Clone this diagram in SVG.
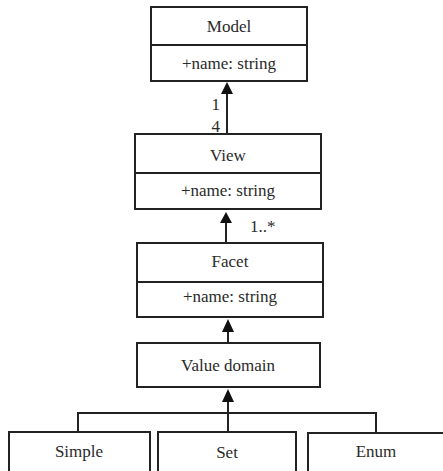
<svg xmlns="http://www.w3.org/2000/svg" width="443" height="471" viewBox="0 0 443 471" font-family="'Liberation Serif', 'DejaVu Serif', serif" font-size="17">
<style>
.box{fill:#fff;stroke:#222;stroke-width:2}
.ln{stroke:#222;stroke-width:2;fill:none}
.head{fill:#111;stroke:none}
text{font-family:'Liberation Serif','DejaVu Serif',serif;font-size:17px;fill:#2a2a2a}
.c{text-anchor:middle}
</style>
<rect width="443" height="471" fill="#fff"/>
<g id="connectors">
<line class="ln" x1="227" y1="134" x2="227" y2="92"/>
<polygon class="head" points="227,82 221,94 233,94"/>
<line class="ln" x1="226" y1="243" x2="226" y2="221"/>
<polygon class="head" points="226,212 220,223 232,223"/>
<line class="ln" x1="228" y1="343" x2="228" y2="330"/>
<polygon class="head" points="228,319 222,332 234,332"/>
<line class="ln" x1="228" y1="432" x2="228" y2="400"/>
<polygon class="head" points="228,389 222,402 234,402"/>
<polyline class="ln" points="78,432 78,413 376,413 376,433"/>
<text x="220" y="110" text-anchor="end">1</text>
<text x="220" y="132" text-anchor="end">4</text>
<text x="250" y="232">1..*</text>
</g>
<g id="model">
<rect class="box" x="151" y="7" width="156" height="74"/>
<line class="ln" x1="151" y1="45" x2="307" y2="45"/>
<text class="c" x="229" y="32">Model</text>
<text class="c" x="229" y="69">+name: string</text>
</g>
<g id="view">
<rect class="box" x="135" y="134" width="186" height="75"/>
<line class="ln" x1="135" y1="173" x2="321" y2="173"/>
<text class="c" x="228" y="161">View</text>
<text class="c" x="228" y="196">+name: string</text>
</g>
<g id="facet">
<rect class="box" x="137" y="243" width="186" height="74"/>
<line class="ln" x1="137" y1="282" x2="323" y2="282"/>
<text class="c" x="230" y="267">Facet</text>
<text class="c" x="230" y="302">+name: string</text>
</g>
<g id="value-domain">
<rect class="box" x="137" y="343" width="183" height="44"/>
<text class="c" x="228" y="371">Value domain</text>
</g>
<g id="simple">
<rect class="box" x="9" y="432" width="141" height="45"/>
<text class="c" x="79" y="457">Simple</text>
</g>
<g id="set">
<rect class="box" x="158" y="432" width="138" height="45"/>
<text class="c" x="227" y="458">Set</text>
</g>
<g id="enum">
<rect class="box" x="308" y="433" width="140" height="45"/>
<text class="c" x="376" y="457">Enum</text>
</g>
</svg>
